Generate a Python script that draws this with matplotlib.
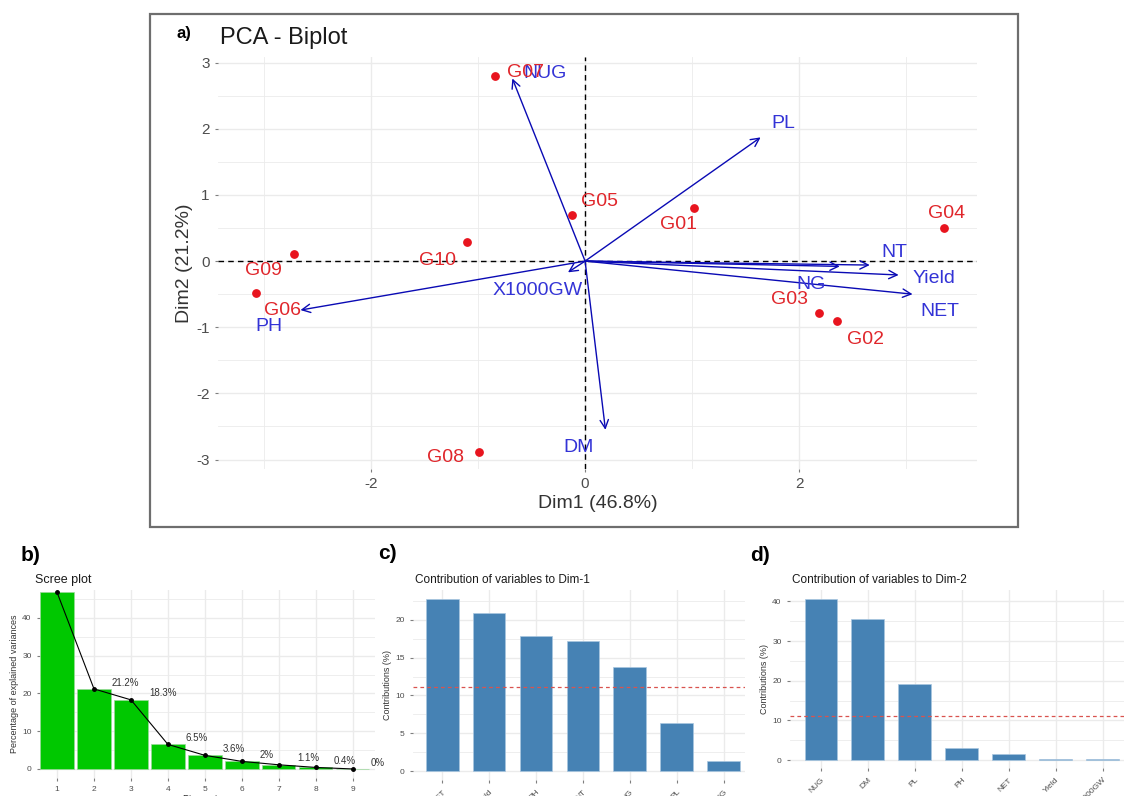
import matplotlib
matplotlib.use("Agg")
import matplotlib.pyplot as plt
from matplotlib.patches import Rectangle
from matplotlib.ticker import MultipleLocator

plt.rcParams['font.family'] = ['Liberation Sans', 'DejaVu Sans']
plt.rcParams['axes.unicode_minus'] = False

# --- data ---
genotypes = ['G01', 'G02', 'G03', 'G04', 'G05', 'G06', 'G07', 'G08', 'G09', 'G10']
geno_dim1 = [1.02, 2.35, 2.19, 3.35, -0.12, -3.08, -0.84, -0.99, -2.72, -1.10]
geno_dim2 = [0.81, -0.90, -0.78, 0.50, 0.69, -0.48, 2.79, -2.88, 0.11, 0.29]

variables = ['NUG', 'PL', 'NT', 'NG', 'Yield', 'NET', 'X1000GW', 'PH', 'DM']
var_dim1 = [-0.68, 1.64, 2.66, 2.38, 2.93, 3.06, -0.16, -2.66, 0.19]
var_dim2 = [2.76, 1.87, -0.06, -0.08, -0.21, -0.50, -0.17, -0.74, -2.55]

dims = [1, 2, 3, 4, 5, 6, 7, 8, 9]
explained = [46.8, 21.2, 18.3, 6.5, 3.6, 2.0, 1.1, 0.4, 0.0]

contrib1_vars = ['NET', 'Yield', 'PH', 'NT', 'NG', 'PL', 'NUG']
contrib1_vals = [22.8, 20.9, 17.9, 17.2, 13.8, 6.4, 1.3]

contrib2_vars = ['NUG', 'DM', 'PL', 'PH', 'NET', 'Yield', 'X1000GW']
contrib2_vals = [40.7, 35.6, 19.2, 3.0, 1.6, 0.3, 0.3]

expected_contrib = 100 / 9

# label offsets in pixels (repel-like placement)
geno_offsets = {'G01': (-16, -17), 'G02': (29, -19), 'G03': (-30, 13), 'G04': (3, 15),
                'G05': (27, 14), 'G06': (27, -18), 'G07': (30, 4), 'G08': (-34, -6),
                'G09': (-31, -17), 'G10': (-30, -19)}
var_offsets = {'NUG': (33, 5), 'PL': (23, 14), 'NT': (25, 13), 'NG': (-29, -18),
               'Yield': (35, -4), 'NET': (27, -17), 'X1000GW': (-30, -18),
               'PH': (-32, -16), 'DM': (-27, -18)}

GRID = '#EBEBEB'
TICK = '#4D4D4D'

fig = plt.figure(figsize=(11.24, 7.96), dpi=100)


def minimal(ax, tick_size):
    for s in ax.spines.values():
        s.set_visible(False)
    ax.grid(True, which='major', color=GRID, lw=1.0)
    ax.grid(True, which='minor', color=GRID, lw=0.6)
    ax.set_axisbelow(True)
    ax.tick_params(which='both', colors='#7F7F7F', labelcolor=TICK,
                   labelsize=tick_size, length=2.5, width=0.8)
    ax.tick_params(which='minor', length=0)


# ---------- a) biplot ----------
fig.patches.append(Rectangle((0.1335, 0.338), 0.7722, 0.644, transform=fig.transFigure,
                             fill=False, ec='#6E6E6E', lw=1.6))
ax = fig.add_axes([0.194, 0.411, 0.675, 0.517])
minimal(ax, 11)
ax.set_xlim(-3.43, 3.66)
ax.set_ylim(-3.14, 3.08)
ax.xaxis.set_major_locator(MultipleLocator(2))
ax.xaxis.set_minor_locator(MultipleLocator(1))
ax.yaxis.set_major_locator(MultipleLocator(1))
ax.yaxis.set_minor_locator(MultipleLocator(0.5))
ax.axhline(0, color='black', ls=(0, (4, 3)), lw=1.0)
ax.axvline(0, color='black', ls=(0, (4, 3)), lw=1.0)

for name, x, y in zip(variables, var_dim1, var_dim2):
    ax.annotate('', xy=(x, y), xytext=(0, 0),
                arrowprops=dict(arrowstyle='->', color='#0A0AB4', lw=1.0,
                                mutation_scale=15, shrinkA=0, shrinkB=0))
for name, x, y in zip(variables, var_dim1, var_dim2):
    ax.annotate(name, (x, y), xytext=var_offsets[name], textcoords='offset pixels',
                ha='center', va='center', color='#3333D6', fontsize=14)

ax.scatter(geno_dim1, geno_dim2, s=28, color='#E8141E', zorder=3)
for name, x, y in zip(genotypes, geno_dim1, geno_dim2):
    ax.annotate(name, (x, y), xytext=geno_offsets[name], textcoords='offset pixels',
                ha='center', va='center', color='#E0262B', fontsize=14)

ax.set_xlabel('Dim1 (46.8%)', fontsize=14, color='#333333', labelpad=3)
ax.set_ylabel('Dim2 (21.2%)', fontsize=14, color='#333333', labelpad=2)
fig.text(0.196, 0.952, 'PCA - Biplot', fontsize=17, color='#1A1A1A', va='center')
fig.text(0.157, 0.958, 'a)', fontsize=12, fontweight='bold', va='center')

# ---------- b) scree plot ----------
axb = fig.add_axes([0.0356, 0.0226, 0.298, 0.2362])
minimal(axb, 6)
axb.bar(dims, explained, width=0.9, color='#00C800', edgecolor='#9AD89A', lw=0.5)
axb.plot(dims, explained, color='black', lw=0.8, marker='o', ms=2.5)
# first label sits above the panel's top edge in the reference, so it is not shown
for d, v in zip(dims[1:], explained[1:]):
    axb.annotate(f'{v:g}%', (d, v), xytext=(13, 1), textcoords='offset points',
                 ha='left', va='bottom', fontsize=7, color='#333333')
axb.set_xlim(0.54, 9.6)
axb.set_ylim(-2.4, 47.4)
axb.set_xticks(dims)
axb.yaxis.set_major_locator(MultipleLocator(10))
axb.yaxis.set_minor_locator(MultipleLocator(5))
axb.set_ylabel('Percentage of explained variances', fontsize=6.5, color='#333333', labelpad=2)
axb.set_xlabel('Dimensions', fontsize=7, color='#333333', labelpad=1)
fig.text(0.031, 0.271, 'Scree plot', fontsize=9, color='#1A1A1A', va='center')
fig.text(0.018, 0.302, 'b)', fontsize=15, fontweight='bold', va='center')

# ---------- c) contributions to Dim-1 ----------
axc = fig.add_axes([0.3674, 0.0201, 0.2954, 0.2387])
minimal(axc, 6)
axc.bar(range(len(contrib1_vars)), contrib1_vals, width=0.7, color='#4682B4',
        edgecolor='#A9C6E0', lw=0.5)
axc.axhline(expected_contrib, color='#D9534F', ls=(0, (3, 2.5)), lw=0.9)
axc.set_xticks(range(len(contrib1_vars)))
axc.set_xticklabels(contrib1_vars, rotation=45, ha='right', rotation_mode='anchor')
axc.set_xlim(-0.62, 6.45)
axc.set_ylim(-1.19, 23.97)
axc.yaxis.set_major_locator(MultipleLocator(5))
axc.yaxis.set_minor_locator(MultipleLocator(2.5))
axc.set_ylabel('Contributions (%)', fontsize=6.5, color='#333333', labelpad=2)
fig.text(0.369, 0.271, 'Contribution of variables to Dim-1', fontsize=8.5,
         color='#1A1A1A', va='center')
fig.text(0.336, 0.305, 'c)', fontsize=15, fontweight='bold', va='center')

# ---------- d) contributions to Dim-2 ----------
axd = fig.add_axes([0.7028, 0.0352, 0.2972, 0.2236])
minimal(axd, 6)
axd.bar(range(len(contrib2_vars)), contrib2_vals, width=0.7, color='#4682B4',
        edgecolor='#A9C6E0', lw=0.5)
axd.axhline(expected_contrib, color='#D9534F', ls=(0, (3, 2.5)), lw=0.9)
axd.set_xticks(range(len(contrib2_vars)))
axd.set_xticklabels(contrib2_vars, rotation=45, ha='right', rotation_mode='anchor')
axd.set_xlim(-0.66, 6.45)
axd.set_ylim(-2.0, 42.9)
axd.yaxis.set_major_locator(MultipleLocator(10))
axd.yaxis.set_minor_locator(MultipleLocator(5))
axd.set_ylabel('Contributions (%)', fontsize=6.5, color='#333333', labelpad=2)
fig.text(0.705, 0.271, 'Contribution of variables to Dim-2', fontsize=8.5,
         color='#1A1A1A', va='center')
fig.text(0.667, 0.302, 'd)', fontsize=15, fontweight='bold', va='center')

fig.savefig('out.png', dpi=100)
